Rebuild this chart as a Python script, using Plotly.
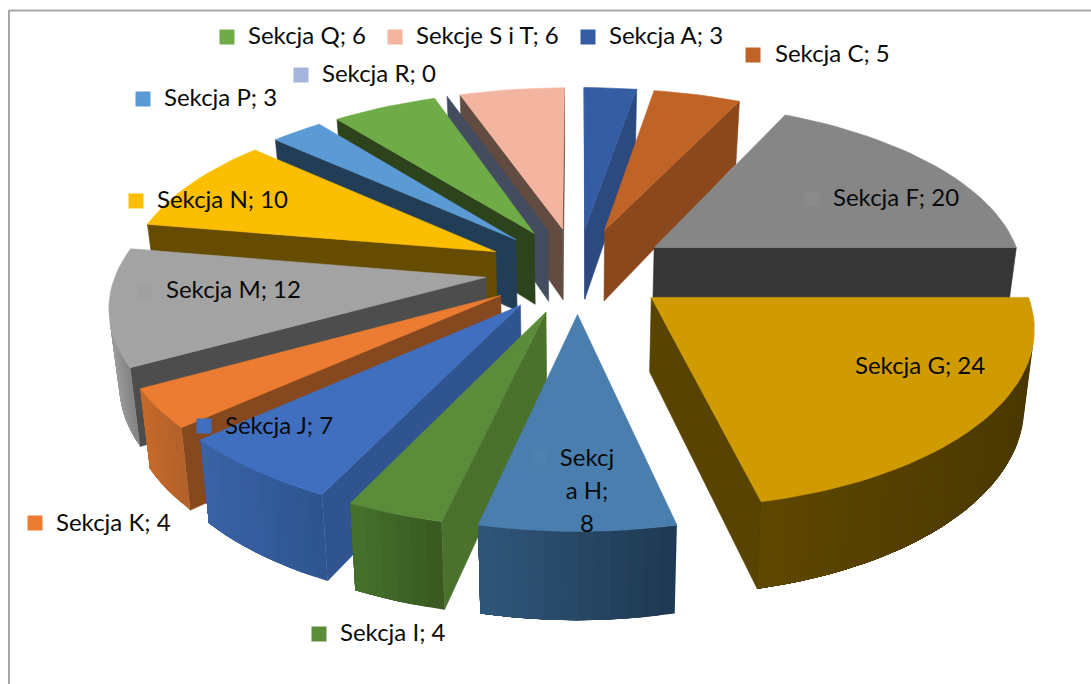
import math
import plotly.graph_objects as go

names = ["Sekcja A", "Sekcja C", "Sekcja F", "Sekcja G", "Sekcja H", "Sekcja I", "Sekcja J",
         "Sekcja K", "Sekcja M", "Sekcja N", "Sekcja P", "Sekcja Q", "Sekcja R", "Sekcje S i T"]
values = [3, 5, 20, 24, 8, 4, 7, 4, 12, 10, 3, 6, 0, 6]

top_colors = ["#355DA3", "#C06326", "#868686", "#D09B00", "#4A7EAE", "#5A8C39", "#406FC0",
              "#EB7C31", "#A3A3A3", "#FBBE00", "#5B9AD5", "#6FAB46", "#A5B4DA", "#F3B5A0"]
key_colors = ["#355DA3", "#C06326", "#8B8B8B", "#CE9A00", "#4F81AF", "#5A8C39", "#406FC0",
              "#EB7C31", "#A0A0A0", "#FBBE00", "#5B9AD5", "#6FAB46", "#A5B4DA", "#F3B5A0"]
wall_colors = ["#2C4A80", "#8B481D", "#363636", "#584300", "#2B4A68", "#4A722C", "#2F548F",
               "#86481E", "#4D4D4D", "#664C00", "#223E56", "#2C431C", "#444C60", "#624B41"]
rim_left = ["#355DA3", "#A8551F", "#5A5A5A", "#5E4700", "#2F5578", "#44702B", "#3A62A5",
            "#C46A2A", "#9C9C9C", "#664C00", "#223E56", "#2C431C", "#444C60", "#624B41"]
rim_right = ["#2C4A80", "#8B481D", "#363636", "#4A3800", "#1F3A54", "#3A5A22", "#2E5590",
             "#B5612A", "#858585", "#664C00", "#223E56", "#2C431C", "#444C60", "#624B41"]

key_px = {"Sekcja A": (588, 37, 609, 38), "Sekcja C": (753, 55, 775, 56), "Sekcja F": (812, 199, 833, 200),
          "Sekcja G": (832, 366, 855, 368), "Sekcja H": (539, 458, None, None), "Sekcja I": (319, 634, 340, 635),
          "Sekcja J": (204, 426, 225, 428), "Sekcja K": (35, 523, 56, 525), "Sekcja M": (145, 291, 166, 292),
          "Sekcja N": (136, 201, 157, 202), "Sekcja P": (143, 99, 164, 100), "Sekcja Q": (227, 37, 248, 38),
          "Sekcja R": (301, 75, 322, 76), "Sekcje S i T": (395, 37, 416, 38)}
H_lines = ["Sekcj", "a H;", "8"]
H_line_y = [460, 493, 526]

CX, CY, RAD, KY, PERSP, DEPTH, PULL, CONVERGE = 577.5, 270, 369, 172, 0.142, 73, 0.25, 0.022


def proj(X, Y, Z):
    s = 1 / (1 - PERSP * Y)
    return CX + RAD * X * s * (1 - CONVERGE * Z), CY + KY * Y * s + DEPTH * Z * s


def hex2rgb(c):
    return [int(c[i:i + 2], 16) for i in (1, 3, 5)]


def lerp(a, b, t):
    ra, rb = hex2rgb(a), hex2rgb(b)
    return "rgb(%d,%d,%d)" % tuple(round(ra[i] + (rb[i] - ra[i]) * t) for i in range(3))


def area(pts):
    return sum(pts[i][0] * pts[(i + 1) % len(pts)][1] - pts[(i + 1) % len(pts)][0] * pts[i][1] for i in range(len(pts)))


def poly(pts, color, width=0.6):
    xs = [p[0] for p in pts] + [pts[0][0]]
    ys = [p[1] for p in pts] + [pts[0][1]]
    return go.Scatter(x=xs, y=ys, mode="lines", fill="toself", fillcolor=color,
                      line=dict(color=color, width=width), hoverinfo="skip", showlegend=False)


total = sum(values)
slices = []
acc = 0.0
for i, v in enumerate(values):
    a0, a1 = acc / total * 2 * math.pi, (acc + v) / total * 2 * math.pi
    acc += v
    slices.append((i, a0, a1))

fig = go.Figure()
for i, a0, a1 in sorted(slices, key=lambda t: -math.cos((t[1] + t[2]) / 2)):
    mid = (a0 + a1) / 2
    ox, oy = PULL * math.sin(mid), -PULL * math.cos(mid)
    n = max(2, int(math.degrees(a1 - a0) / 2))
    angles = [a0 + (a1 - a0) * j / n for j in range(n + 1)]
    rim = [(ox + math.sin(t), oy - math.cos(t)) for t in angles]
    apex = (ox, oy)

    def wall(P, Q):
        return [proj(*P, 0), proj(*Q, 0), proj(*Q, 1), proj(*P, 1)]

    for P, Q in ((apex, rim[0]), (rim[-1], apex)):
        w = wall(P, Q)
        if area(w) < 0:
            fig.add_trace(poly(w, wall_colors[i]))
    vis = [j for j in range(n) if area(wall(rim[j], rim[j + 1])) < -1e-6]
    if vis:
        xs = [proj(*rim[j], 0)[0] for j in vis]
        lo, hi = min(xs), max(xs)
        for pos, j in enumerate(vis):
            t = (proj(*rim[j], 0)[0] - lo) / max(hi - lo, 1)
            # every band runs on to the far end of the visible rim, so that the next one paints over it
            band = [proj(*rim[k], 0) for k in vis[pos:]] + [proj(*rim[vis[-1] + 1], 0)]
            band += [proj(*rim[vis[-1] + 1], 1)] + [proj(*rim[k], 1) for k in reversed(vis[pos:])]
            fig.add_trace(poly(band, lerp(rim_left[i], rim_right[i], t), width=0))
    if values[i] > 0:
        fig.add_trace(poly([proj(*apex, 0)] + [proj(*r, 0) for r in rim], top_colors[i]))

FONT = dict(family="Lato, Carlito, Calibri, sans-serif", size=24, color="#0a0a0a")
for i, nm in enumerate(names):
    kx, ky, tx, ty = key_px[nm]
    fig.add_trace(go.Scatter(x=[kx], y=[ky], mode="markers", hoverinfo="skip", showlegend=False,
                             marker=dict(symbol="square", size=15, color=key_colors[i], line=dict(width=0))))
    if tx is not None:
        fig.add_trace(go.Scatter(x=[tx], y=[ty], mode="text", text=[f"{nm}; {round(values[i])}"],
                                 textposition="middle right", textfont=FONT,
                                 hoverinfo="skip", showlegend=False))
fig.add_trace(go.Scatter(x=[587] * 3, y=H_line_y, mode="text", text=H_lines, textposition="middle center",
                         textfont=FONT, hoverinfo="skip", showlegend=False))

frame = dict(color="#A6A6A6", width=2)
fig.update_layout(
    width=1091, height=684, margin=dict(l=0, r=0, t=0, b=0),
    paper_bgcolor="white", plot_bgcolor="white", showlegend=False,
    xaxis=dict(range=[0, 1091], visible=False, fixedrange=True),
    yaxis=dict(range=[684, 0], visible=False, fixedrange=True),
    shapes=[dict(type="line", x0=9, x1=9, y0=10, y1=684, line=frame),
            dict(type="line", x0=9, x1=1091, y0=10.5, y1=10.5, line=frame)],
)
fig.write_html("out.html", config=dict(displayModeBar=False),
               post_script="document.body.style.margin='0';document.body.style.overflow='hidden';")
